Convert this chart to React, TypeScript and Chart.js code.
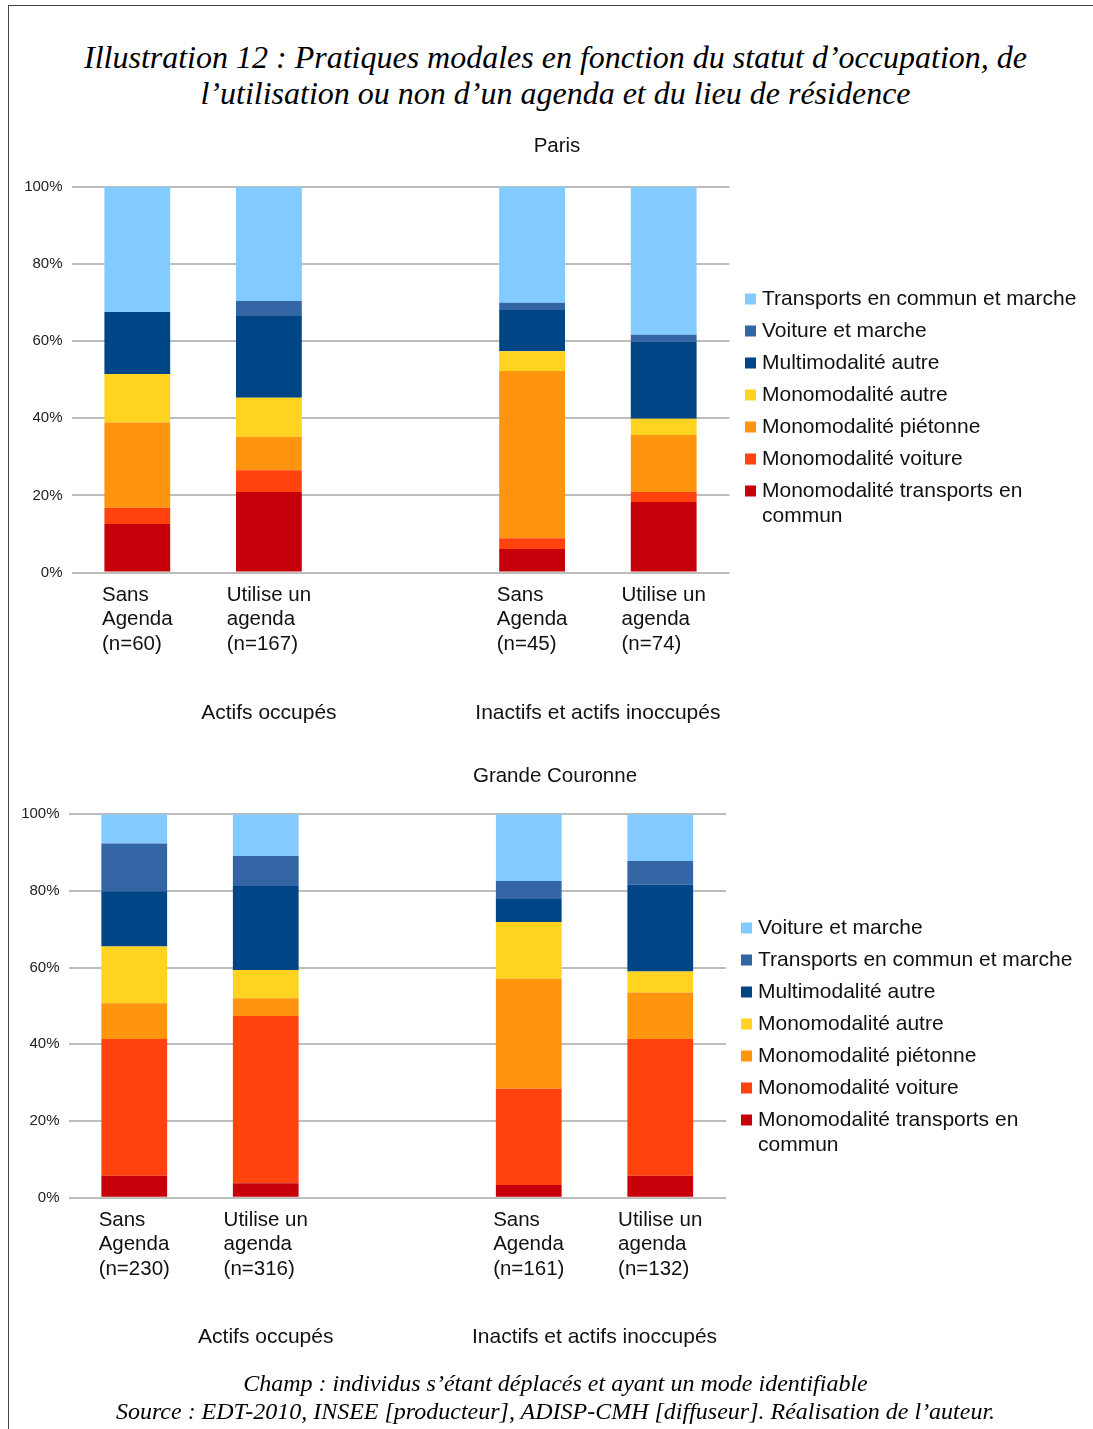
import React, { useEffect, useRef } from "react";
import { Chart, registerables } from "chart.js";

Chart.register(...registerables);

const SANS = '"Liberation Sans", Arial, sans-serif';
const SERIF = '"Liberation Serif", "Times New Roman", serif';
const TEXT = "#111";

// ---------- data ----------
const parisLabels = [
  ["Sans", "Agenda", "(n=60)"],
  ["Utilise un", "agenda", "(n=167)"],
  [""],
  ["Sans", "Agenda", "(n=45)"],
  ["Utilise un", "agenda", "(n=74)"],
];
const gcLabels = [
  ["Sans", "Agenda", "(n=230)"],
  ["Utilise un", "agenda", "(n=316)"],
  [""],
  ["Sans", "Agenda", "(n=161)"],
  ["Utilise un", "agenda", "(n=132)"],
];
const groupLabels = ["Actifs occupés", "Inactifs et actifs inoccupés"];
const yTicks = [0, 20, 40, 60, 80, 100];

// Paris (%), bottom to top
const parisMonoTC = [12.6, 20.9, null, 6.1, 18.3];
const parisMonoVoiture = [4.2, 5.6, null, 2.8, 2.6];
const parisMonoPieton = [22.1, 8.7, null, 43.4, 14.8];
const parisMonoAutre = [12.6, 10.1, null, 5.1, 4.2];
const parisMulti = [16.1, 21.4, null, 10.7, 20.0];
const parisVoitureMarche = [0, 3.7, null, 1.9, 1.8];
const parisTCMarche = [32.4, 29.6, null, 30.0, 38.3];

// Grande Couronne (%), bottom to top
const gcMonoTC = [5.7, 3.8, null, 3.3, 5.7];
const gcMonoVoiture = [35.7, 43.6, null, 25.1, 35.7];
const gcMonoPieton = [9.3, 4.6, null, 28.7, 12.1];
const gcMonoAutre = [14.8, 7.4, null, 14.8, 5.5];
const gcMulti = [14.4, 21.9, null, 6.0, 22.7];
const gcTCMarche = [12.5, 7.8, null, 4.7, 6.1];
const gcVoitureMarche = [7.6, 10.9, null, 17.4, 12.2];

const C = {
  monoTC: "#c5000b",
  monoVoiture: "#ff420e",
  monoPieton: "#ff950e",
  monoAutre: "#ffd320",
  multi: "#004586",
  mid: "#3465a4",
  light: "#83caff",
};

const parisDatasets = [
  { label: "Monomodalité transports en commun", data: parisMonoTC, backgroundColor: C.monoTC },
  { label: "Monomodalité voiture", data: parisMonoVoiture, backgroundColor: C.monoVoiture },
  { label: "Monomodalité piétonne", data: parisMonoPieton, backgroundColor: C.monoPieton },
  { label: "Monomodalité autre", data: parisMonoAutre, backgroundColor: C.monoAutre },
  { label: "Multimodalité autre", data: parisMulti, backgroundColor: C.multi },
  { label: "Voiture et marche", data: parisVoitureMarche, backgroundColor: C.mid },
  { label: "Transports en commun et marche", data: parisTCMarche, backgroundColor: C.light },
];
const gcDatasets = [
  { label: "Monomodalité transports en commun", data: gcMonoTC, backgroundColor: C.monoTC },
  { label: "Monomodalité voiture", data: gcMonoVoiture, backgroundColor: C.monoVoiture },
  { label: "Monomodalité piétonne", data: gcMonoPieton, backgroundColor: C.monoPieton },
  { label: "Monomodalité autre", data: gcMonoAutre, backgroundColor: C.monoAutre },
  { label: "Multimodalité autre", data: gcMulti, backgroundColor: C.multi },
  { label: "Transports en commun et marche", data: gcTCMarche, backgroundColor: C.mid },
  { label: "Voiture et marche", data: gcVoitureMarche, backgroundColor: C.light },
];

// ---------- layout ----------
type Spec = {
  title: string;
  labels: string[][];
  datasets: any[];
  top: number;
  height: number;
  plotLeft: number;
  plotRight: number;
  plotTop: number;
  plotBottom: number;
  titleX: number;
  titleY: number;
  groupY: number;
  legendX: number;
  legendY: number;
};

const W = 1093;

const overlayPlugin = {
  id: "overlay",
  afterDraw(chart: any, _args: any, opts: any) {
    const ctx = chart.ctx;
    const xs = chart.scales.x;
    const bottom = chart.chartArea.bottom;
    ctx.save();
    ctx.fillStyle = TEXT;
    ctx.textBaseline = "middle";

    // category labels: block centered under bar, lines left-aligned
    ctx.font = `20.5px ${SANS}`;
    ctx.textAlign = "left";
    (opts.labels as string[][]).forEach((lines, i) => {
      const w = Math.max(...lines.map((l) => ctx.measureText(l).width));
      const cx = xs.getPixelForValue(i);
      lines.forEach((l, k) => ctx.fillText(l, cx - w / 2, bottom + 22.5 + k * 24.5));
    });

    // group labels
    ctx.font = `21px ${SANS}`;
    ctx.textAlign = "center";
    ctx.fillText(groupLabels[0], xs.getPixelForValue(1), opts.groupY);
    ctx.fillText(
      groupLabels[1],
      (xs.getPixelForValue(3) + xs.getPixelForValue(4)) / 2,
      opts.groupY
    );

    // title
    ctx.font = `20.5px ${SANS}`;
    ctx.fillText(opts.title, opts.titleX, opts.titleY);

    // legend (top item = last dataset)
    ctx.font = `21px ${SANS}`;
    ctx.textAlign = "left";
    const ds = chart.data.datasets.slice().reverse();
    let y = opts.legendY;
    const maxW = 318;
    ds.forEach((d: any) => {
      ctx.fillStyle = d.backgroundColor;
      ctx.fillRect(opts.legendX, y - 5.5, 11, 11);
      ctx.fillStyle = TEXT;
      const words = String(d.label).split(" ");
      const lines: string[] = [];
      let cur = "";
      words.forEach((wd) => {
        const t = cur ? cur + " " + wd : wd;
        if (ctx.measureText(t).width > maxW && cur) {
          lines.push(cur);
          cur = wd;
        } else cur = t;
      });
      lines.push(cur);
      lines.forEach((l, k) => ctx.fillText(l, opts.legendX + 17, y + k * 25));
      y += 32;
    });
    ctx.restore();
  },
};

function StackedChart({ spec }: { spec: Spec }) {
  const ref = useRef<HTMLCanvasElement | null>(null);
  useEffect(() => {
    if (!ref.current) return;
    const chart = new Chart(ref.current, {
      type: "bar",
      data: {
        labels: spec.labels.map((l) => l.join(" ")),
        datasets: spec.datasets.map((d) => ({
          ...d,
          borderWidth: 0,
          categoryPercentage: 1,
          barPercentage: 0.5,
        })),
      },
      options: {
        animation: false,
        responsive: false,
        events: [],
        layout: {
          padding: {
            left: 0,
            right: W - spec.plotRight,
            top: spec.plotTop - spec.top,
            bottom: 0,
          },
        },
        plugins: {
          legend: { display: false },
          title: { display: false },
          tooltip: { enabled: false },
          overlay: {
            labels: spec.labels,
            title: spec.title,
            titleX: spec.titleX,
            titleY: spec.titleY - spec.top,
            groupY: spec.groupY - spec.top,
            legendX: spec.legendX,
            legendY: spec.legendY - spec.top,
          },
        } as any,
        scales: {
          x: {
            stacked: true,
            grid: { display: false, drawTicks: false },
            border: { display: false },
            ticks: { display: false },
            afterFit: (s: any) => {
              s.height = spec.height - (spec.plotBottom - spec.top);
            },
          },
          y: {
            stacked: true,
            min: 0,
            max: 100,
            afterBuildTicks: (s: any) => {
              s.ticks = yTicks.map((v) => ({ value: v }));
            },
            ticks: {
              padding: 9,
              color: "#222",
              font: { family: SANS, size: 15 },
              callback: (v: any) => `${v}%`,
            },
            grid: { color: "#bdbdbd", lineWidth: 2, drawTicks: false },
            border: { display: false },
            afterFit: (s: any) => {
              s.width = spec.plotLeft;
            },
          },
        },
      },
      plugins: [overlayPlugin],
    });
    return () => chart.destroy();
  }, [spec]);
  return (
    <canvas
      ref={ref}
      width={W}
      height={spec.height}
      style={{ position: "absolute", left: 0, top: spec.top, width: W, height: spec.height }}
    />
  );
}

const parisSpec: Spec = {
  title: "Paris",
  labels: parisLabels,
  datasets: parisDatasets,
  top: 120,
  height: 620,
  plotLeft: 71.5,
  plotRight: 729.5,
  plotTop: 187,
  plotBottom: 572.5,
  titleX: 557,
  titleY: 146,
  groupY: 713,
  legendX: 745,
  legendY: 299,
};

const gcSpec: Spec = {
  title: "Grande Couronne",
  labels: gcLabels,
  datasets: gcDatasets,
  top: 750,
  height: 620,
  plotLeft: 68.5,
  plotRight: 726,
  plotTop: 814.3,
  plotBottom: 1197.7,
  titleX: 555,
  titleY: 776,
  groupY: 1337,
  legendX: 741,
  legendY: 928,
};

export default function App() {
  return (
    <div style={{ position: "absolute", left: 0, top: 0, width: W, height: 1429, overflow: "hidden", background: "#fff" }}>
      <div
        style={{
          position: "absolute",
          left: 8,
          top: 5,
          width: 1200,
          height: 1500,
          borderLeft: "1.5px solid #444",
          borderTop: "1.5px solid #444",
        }}
      />
      <div
        style={{
          position: "absolute",
          left: 0,
          top: 39,
          width: 1111,
          textAlign: "center",
          fontFamily: SERIF,
          fontStyle: "italic",
          fontSize: 32,
          lineHeight: "36px",
          color: "#000",
          whiteSpace: "nowrap",
        }}
      >
        Illustration 12 : Pratiques modales en fonction du statut d’occupation, de
        <br />
        l’utilisation ou non d’un agenda et du lieu de résidence
      </div>
      <StackedChart spec={parisSpec} />
      <StackedChart spec={gcSpec} />
      <div
        style={{
          position: "absolute",
          left: 0,
          top: 1369,
          width: 1111,
          textAlign: "center",
          fontFamily: SERIF,
          fontStyle: "italic",
          fontSize: 24,
          lineHeight: "28px",
          color: "#000",
          whiteSpace: "nowrap",
        }}
      >
        Champ : individus s’étant déplacés et ayant un mode identifiable
        <br />
        Source : EDT-2010, INSEE [producteur], ADISP-CMH [diffuseur]. Réalisation de l’auteur.
      </div>
    </div>
  );
}
